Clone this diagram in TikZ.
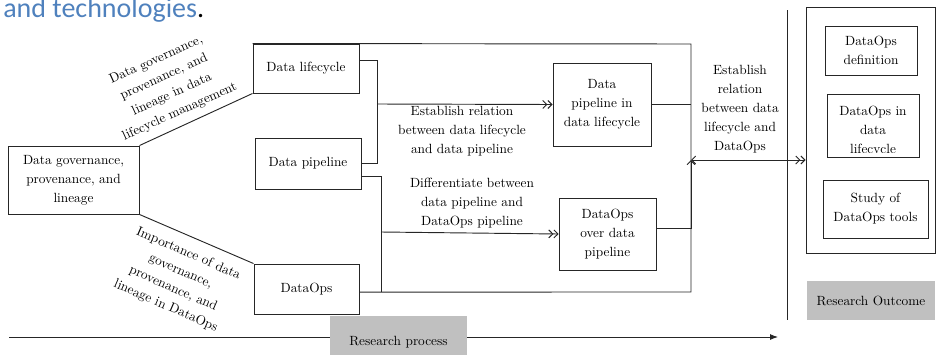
\documentclass[tikz,border=0pt]{standalone}
\usepackage{fontspec}
\usepackage{tikz}
\usetikzlibrary{arrows.meta}
\newfontfamily\hdfont{Carlito}
\definecolor{hdblue}{HTML}{4F81BD}
\definecolor{bandgray}{HTML}{C0C0C0}

\begin{document}
\begin{tikzpicture}[x=0.75pt,y=-0.75pt]
\tikzstyle{every node}=[font=\fontsize{10}{14.2}\selectfont,align=center,inner sep=0pt];
\tikzstyle{box}=[draw=black!85,line width=0.7pt];
\tikzstyle{link}=[draw=black!85,line width=0.7pt];
\tikzstyle{dbl}=[-{Straight Barb[length=3pt,width=6pt]Straight Barb[length=3pt,width=6pt]}];
\tikzstyle{band}=[fill=bandgray];
\useasboundingbox (0,0) rectangle (936,354);

\node[anchor=base west,font=\hdfont\fontsize{21}{21}\selectfont] (hd) at (3,17) {\textcolor{hdblue}{and technologies}.};

\node[box,minimum width=98.25pt,minimum height=51pt] (gov) at (73.5,180) {Data governance,\\provenance, and\\lineage};
\node[box,minimum width=79.5pt,minimum height=36.75pt] (dl) at (306,68.5) {Data lifecycle};
\node[box,minimum width=79.5pt,minimum height=38.25pt] (dp) at (308,163.5) {Data pipeline};
\node[box,minimum width=78.75pt,minimum height=37.5pt] (dops) at (306.5,289) {DataOps};
\node[box,minimum width=73.5pt,minimum height=62.25pt] (dpdl) at (602,104.5) {Data\\pipeline in\\data lifecycle};
\node[box,minimum width=72.75pt,minimum height=54pt] (dopp) at (607.5,234) {DataOps\\over data\\pipeline};

\node[box,minimum width=96.75pt,minimum height=184.5pt] (out) at (870.5,130) {};
\node[box,minimum width=69pt,minimum height=36.75pt] (odef) at (871,50.5) {DataOps\\definition};
\node[box,minimum width=69pt,minimum height=47.25pt] (odl) at (873,125.5) {};
\begin{scope}
\clip (odl.north west) rectangle ([yshift=4pt]odl.south east);
\node (odltext) at (873,131) {DataOps in\\data\\lifecycle};
\end{scope}
\node[box,minimum width=78.75pt,minimum height=43.5pt] (ostudy) at (875.5,209) {Study of\\DataOps tools};
\node[band,minimum width=96pt,minimum height=29.25pt] (rout) at (871,300.5) {Research Outcome};

\draw[link] (gov.north east) -- (dl.south west);
\draw[link] (gov.south east) -- (dops.north west);
\node[rotate=24.5] (lbup) at (168,86) {Data governance,\\provenance, and\\lineage in data\\lifecycle management};
\node[rotate=-23.5] (lbdown) at (177,280) {Importance of data\\governance,\\provenance, and\\lineage in DataOps};

\coordinate (busa) at (377,104);
\coordinate (busb) at (381,232);
\coordinate (mid) at (691,160);
\draw[link] ([yshift=6.4pt]dl.east) -| (377,163.5) -- (dp.east);
\draw[link,dbl] (busa) -- (dpdl.west);
\draw[link] ([yshift=-10pt]dp.east) -| (381,292);
\draw[link,dbl] (busb) -- (dopp.west);
\draw[link] (dl.north west) -- (691,44) -- (691,292) -- ([yshift=-2.3pt]dops.east);
\draw[link] (dpdl.east) -- (691,104.5);
\draw[link,-{Straight Barb[length=3pt,width=6pt]}] ([yshift=4.5pt]dopp.east) -| (mid);
\draw[link,{Straight Barb[length=3pt,width=6pt]}-{Straight Barb[length=3pt,width=6pt]Straight Barb[length=3pt,width=6pt]}] (mid) -- ([yshift=-22.5pt]out.west);

\node (lba) at (462,131) {Establish relation\\between data lifecycle\\and data pipeline};
\node (lbb) at (472,203) {Differentiate between\\data pipeline and\\DataOps pipeline};
\node (lbc) at (740,109) {Establish\\relation\\between data\\lifecycle and\\DataOps};

\draw[link] (787,10) -- (787,320);
\coordinate (pstart) at (9,337);
\coordinate (pend) at (778,337);
\draw[link,-{Latex[length=6pt,width=4.5pt]}] (pstart) -- (pend);
\node[band,minimum width=102.75pt,minimum height=39pt] (rproc) at (398.5,342) {Research process};
\end{tikzpicture}
\end{document}
